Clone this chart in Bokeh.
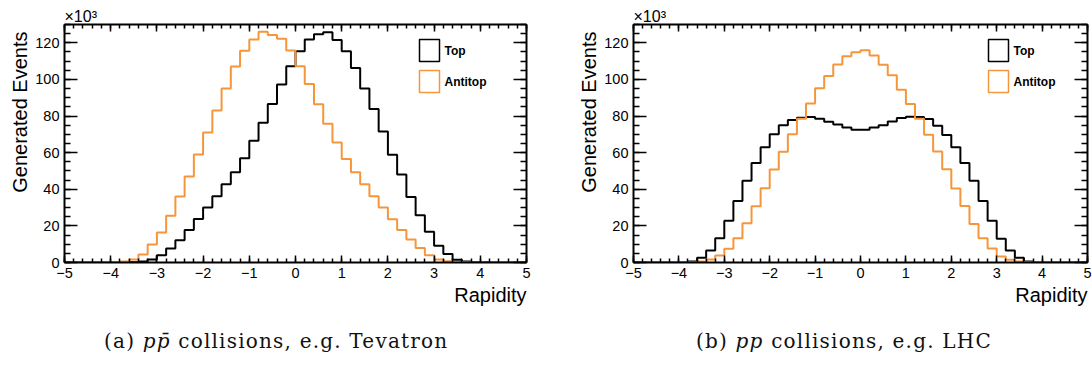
import numpy as np
from bokeh.plotting import figure
from bokeh.models import (Range1d, LinearAxis, FixedTicker, Label, Title, BoxAnnotation, Div)
from bokeh.layouts import row, column
from bokeh.embed import file_html
from bokeh.resources import INLINE

# ---------------- data (50 bins of width 0.2 from -5 to 5, in units of 10^3 events) ----------------
bin_edges = np.round(np.linspace(-5.0, 5.0, 51), 2)

tev_top = [0, 0, 0, 0, 0, 0.05, 0.1, 0.2, 0.5, 1.6,
           4.0, 7.7, 12.2, 17.7, 23.7, 30.0, 36.2, 42.7, 49.3, 57.0,
           66.5, 76.3, 86.6, 97.2, 107.2, 115.4, 121.8, 124.7, 125.7, 121.5,
           115.4, 106.3, 95.0, 83.8, 71.6, 58.8, 48.0, 35.8, 25.8, 16.8,
           9.1, 4.6, 1.5, 0.5, 0.2, 0.1, 0, 0, 0, 0]
tev_antitop = [0, 0, 0, 0, 0.1, 0.2, 0.5, 1.6, 4.4, 9.9,
               16.4, 25.6, 36.0, 47.0, 59.0, 71.0, 83.0, 95.0, 107.0, 115.6,
               121.8, 126.0, 124.3, 122.2, 115.8, 107.2, 97.5, 86.4, 75.8, 65.6,
               56.6, 49.3, 42.7, 36.2, 30.0, 23.6, 17.7, 12.6, 7.9, 4.0,
               1.6, 0.7, 0.2, 0.1, 0, 0, 0, 0, 0, 0]
lhc_top = [0, 0, 0, 0, 0.05, 0.2, 0.5, 2.6, 6.6, 13.2,
           22.8, 33.6, 44.6, 54.4, 63.0, 70.0, 75.0, 77.8, 79.1, 79.5,
           78.5, 76.9, 75.4, 73.8, 72.5, 72.5, 73.8, 75.0, 77.0, 78.9,
           79.6, 79.5, 78.4, 74.7, 69.6, 63.0, 54.4, 44.6, 33.6, 22.8,
           13.0, 6.6, 2.6, 0.5, 0.2, 0.05, 0, 0, 0, 0]
lhc_antitop = [0, 0, 0, 0, 0, 0.1, 0.2, 0.6, 1.6, 3.8,
               7.5, 13.3, 21.4, 30.7, 40.5, 50.8, 60.5, 70.0, 78.5, 86.8,
               95.2, 101.9, 108.1, 112.7, 114.9, 116.0, 113.0, 108.0, 102.3, 94.4,
               86.6, 78.5, 69.8, 60.6, 51.0, 40.4, 30.9, 21.0, 13.2, 7.7,
               3.3, 1.5, 0.5, 0.2, 0.1, 0, 0, 0, 0, 0]

x_ticks = list(range(-5, 6))
x_minor = [round(v, 1) for v in np.arange(-5.0, 5.01, 0.2)]
y_ticks = list(range(0, 121, 20))
y_minor = list(range(0, 131, 5))
series_labels = ["Top", "Antitop"]
x_title = "Rapidity"
y_title = "Generated Events"
y_multiplier = "×10³"
captions = ['(a) <i>pp&#x0304;</i> collisions, e.g. Tevatron',
            '(b) <i>pp</i> collisions, e.g. LHC']

BLACK = "#000000"
ORANGE = "#f5963c"
FONT = "Liberation Sans"
X0, X1, Y0, Y1 = -5.0, 5.0, 0.0, 130.0
FRAME_H = 238


def style_axis(ax, major_in, minor_in, labels):
    ax.axis_line_color = BLACK
    ax.axis_line_width = 2
    ax.major_tick_in = major_in
    ax.major_tick_out = 0
    ax.minor_tick_in = minor_in
    ax.minor_tick_out = 0
    ax.major_tick_line_color = BLACK
    ax.minor_tick_line_color = BLACK
    ax.major_tick_line_width = 1.5
    ax.minor_tick_line_width = 1.5
    if labels:
        ax.major_label_text_font = FONT
        ax.major_label_text_font_size = "14.5px"
        ax.major_label_text_color = BLACK
        ax.major_label_standoff = 5
    else:
        ax.major_label_text_color = None
        ax.major_label_text_font_size = "1px"
        ax.major_label_standoff = 0


def panel(top_vals, anti_vals, frame_w, border_l, border_r):
    p = figure(frame_width=frame_w, frame_height=FRAME_H,
               x_range=Range1d(X0, X1), y_range=Range1d(Y0, Y1),
               x_axis_location=None, y_axis_location=None,
               output_backend="svg", toolbar_location=None,
               min_border_left=border_l, min_border_right=border_r,
               min_border_top=24, min_border_bottom=58)
    p.title.visible = False
    p.grid.visible = False
    p.outline_line_color = None
    p.background_fill_color = "white"
    p.border_fill_color = "white"

    overrides = {t: str(t).replace("-", "\u2212") for t in x_ticks}
    for loc in ("below", "above"):
        ax = LinearAxis(ticker=FixedTicker(ticks=x_ticks, minor_ticks=x_minor))
        style_axis(ax, 7, 4, loc == "below")
        if loc == "below":
            ax.major_label_overrides = overrides
        p.add_layout(ax, loc)
    for loc in ("left", "right"):
        ax = LinearAxis(ticker=FixedTicker(ticks=y_ticks, minor_ticks=y_minor))
        style_axis(ax, 13, 6, loc == "left")
        p.add_layout(ax, loc)

    # axis titles (ROOT style: aligned to the axis ends)
    p.add_layout(Title(text=y_title, align="right", text_font=FONT,
                       text_font_size="20px", text_font_style="normal",
                       text_color=BLACK, standoff=3, offset=7), "left")
    p.add_layout(Title(text=x_title, align="right", text_font=FONT,
                       text_font_size="20px", text_font_style="normal",
                       text_color=BLACK, standoff=2), "below")
    p.add_layout(Title(text=y_multiplier, align="left", text_font=FONT,
                       text_font_size="16px", text_font_style="normal",
                       text_color=BLACK, standoff=0), "above")

    xs = list(bin_edges)
    p.step(x=xs, y=list(top_vals) + [top_vals[-1]], mode="after",
           line_color=BLACK, line_width=2)
    p.step(x=xs, y=list(anti_vals) + [anti_vals[-1]], mode="after",
           line_color=ORANGE, line_width=2)

    # legend: outlined boxes + bold labels, placed in frame pixels
    def dx(px):
        return X0 + px * (X1 - X0) / frame_w

    def dy(px_from_top):
        return Y1 - px_from_top * (Y1 - Y0) / FRAME_H

    box_l, box_w, box_h, first_top, pitch = 355, 20, 22, 15, 31
    for i, (lab, col) in enumerate(zip(series_labels, [BLACK, ORANGE])):
        t = first_top + i * pitch
        p.add_layout(BoxAnnotation(left=dx(box_l), right=dx(box_l + box_w),
                                   top=dy(t), bottom=dy(t + box_h),
                                   fill_alpha=0, line_color=col, line_width=1.5,
                                   line_alpha=1))
        p.add_layout(Label(x=dx(box_l + box_w + 5), y=dy(t + box_h / 2), text=lab,
                           text_font=FONT, text_font_size="12px",
                           text_font_style="bold", text_color=BLACK,
                           text_baseline="middle", text_align="left"))
    return p


p1 = panel(tev_top, tev_antitop, 462, 64, 48)
p2 = panel(lhc_top, lhc_antitop, 454, 54, 10)


def caption(html, width, pad_left):
    return Div(text=('<div style="padding-left:%dpx;padding-top:9px;white-space:nowrap;'
                     'font-family:\'DejaVu Serif\';font-size:20px;line-height:24px;'
                     'letter-spacing:1.2px;color:#111;">%s</div>')
               % (pad_left, html),
               width=width, height=47, margin=(0, 0, 0, 0))


d1 = caption(captions[0], 574, 104)
d2 = caption(captions[1], 518, 696 - 574)

layout = column(row(p1, p2, spacing=0), row(d1, d2, spacing=0), spacing=0)

with open("out.html", "w") as f:
    f.write(file_html(layout, INLINE))
